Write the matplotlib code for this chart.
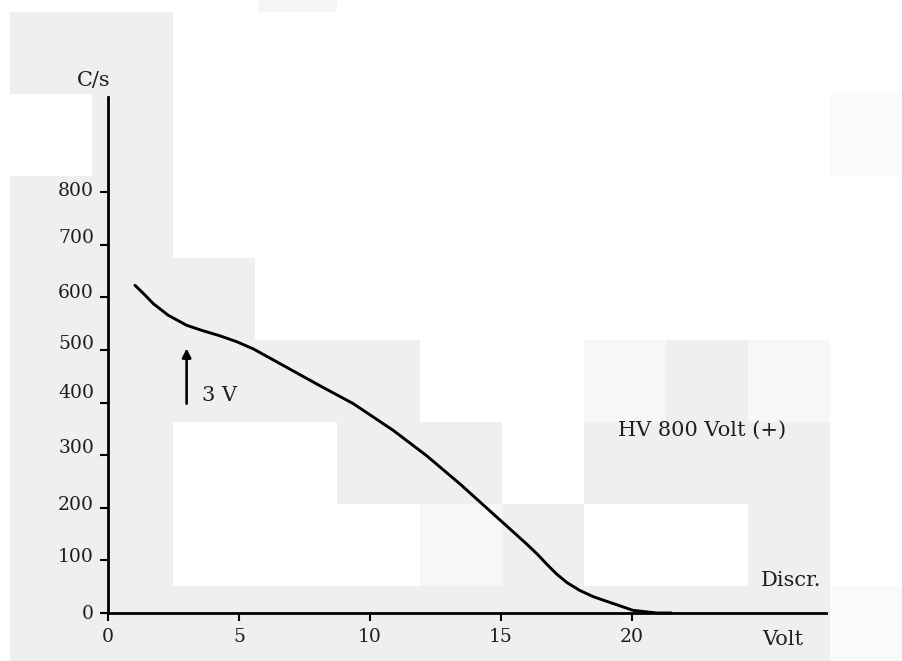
import numpy as np
import matplotlib
matplotlib.use("Agg")
import matplotlib.pyplot as plt
import matplotlib.transforms as mtrans

# ---- data ----
volt = [1.03, 1.4, 1.73, 2.3, 3.0, 3.6, 4.27, 4.9, 5.55, 6.82, 8.09, 9.36, 10.89,
        12.16, 13.44, 14.71, 15.98, 16.4, 16.74, 17.1, 17.51, 18.0, 18.52, 19.16,
        20.04, 20.95, 21.5]
rate = [623, 605, 588, 566, 547, 537, 527, 516, 502, 467, 432, 398, 347,
        299, 245, 188, 131, 111, 93, 75, 58, 43, 31, 20,
        5, 0, 0]
x_ticks = [0, 5, 10, 15, 20]
y_ticks = [0, 100, 200, 300, 400, 500, 600, 700, 800]
marker_volt = 3.0
marker_range = [398, 503]

W, H = 903, 661
fig = plt.figure(figsize=(W / 100, H / 100), dpi=100)
fig.patch.set_facecolor("white")

# ---- scanned paper background (blocky grey/white mosaic) ----
bg = fig.add_axes([0, 0, 1, 1], zorder=0)
bg.set_xlim(0, W)
bg.set_ylim(H, 0)
bg.axis("off")
xe = [10, 92, 173, 255, 337, 420, 502, 584, 666, 748, 830]
ye = [12, 94, 176, 258, 340, 422, 504, 586, 661]
grid = [
    "ggwwwwwwww",
    "wgwwwwwwww",
    "ggwwwwwwww",
    "gggwwwwwww",
    "gggggwwlgl",
    "ggwwggwggg",
    "ggwwwlgwwg",
    "gggggggggg",
]
cmap = {"g": 0.935, "w": 1.0, "l": 0.965}
vals = np.array([[cmap[c] for c in row] for row in grid])
bg.pcolormesh(xe, ye, vals, cmap="gray", vmin=0, vmax=1, shading="flat")
bg.add_patch(plt.Rectangle((258, 0), 79, 12, color="0.965", lw=0))
bg.add_patch(plt.Rectangle((830, 586), 73, 75, color="0.98", lw=0))
bg.add_patch(plt.Rectangle((830, 94), 73, 82, color="0.985", lw=0))

# ---- main axes ----
left = 108 / W
bottom = (H - 613) / H
width = (826 - 108) / W
height = (613 - 97) / H
ax = fig.add_axes([left, bottom, width, height], zorder=1)
ax.patch.set_alpha(0)
ax.set_xlim(0, 27.4)
ax.set_ylim(0, 981)

for s in ["top", "right"]:
    ax.spines[s].set_visible(False)
for s in ["left", "bottom"]:
    ax.spines[s].set_linewidth(2.0)
    ax.spines[s].set_color("black")

fam = ["DejaVu Serif"]
tcol = "#1e1e1e"
ax.set_xticks(x_ticks)
ax.set_yticks(y_ticks)
ax.set_xticklabels([str(v) for v in x_ticks], fontsize=13.5, family=fam, color=tcol)
ax.set_yticklabels([str(v) for v in y_ticks], fontsize=13.5, family=fam, color=tcol)
ax.tick_params(axis="x", direction="out", length=6, width=1.5, pad=5)
ax.tick_params(axis="y", direction="out", length=6, width=1.5, pad=4)

# hand-lettered labels sit a little above their ticks in the original
y_shift_px = [1, 5, 5, 9, 12, 8, 6, 9, 3]
for lab, d in zip(ax.get_yticklabels(), y_shift_px):
    lab.set_transform(lab.get_transform() +
                      mtrans.ScaledTranslation(0, d / 100, fig.dpi_scale_trans))

ax.plot(volt, rate, color="black", lw=2.1, solid_capstyle="round",
        solid_joinstyle="round", zorder=3)

ax.annotate("", xy=(marker_volt, marker_range[1]), xytext=(marker_volt, marker_range[0]),
            arrowprops=dict(arrowstyle="-|>", lw=1.9, color="black",
                            mutation_scale=13, shrinkA=0, shrinkB=0))

tk = dict(family=fam, color=tcol, fontsize=15)
ax.text(3.59, 414, "3 V", ha="left", va="center", **tk)
ax.text(19.47, 348, "HV 800 Volt (+)", ha="left", va="center", **tk)
ax.text(24.9, 61, "Discr.", ha="left", va="center", **tk)
ax.text(24.96, -51, "Volt", ha="left", va="center", clip_on=False, **tk)
ax.text(-0.55, 1013, "C/s", ha="center", va="center", clip_on=False, **tk)

fig.savefig("out.png", dpi=100, facecolor=fig.get_facecolor())
